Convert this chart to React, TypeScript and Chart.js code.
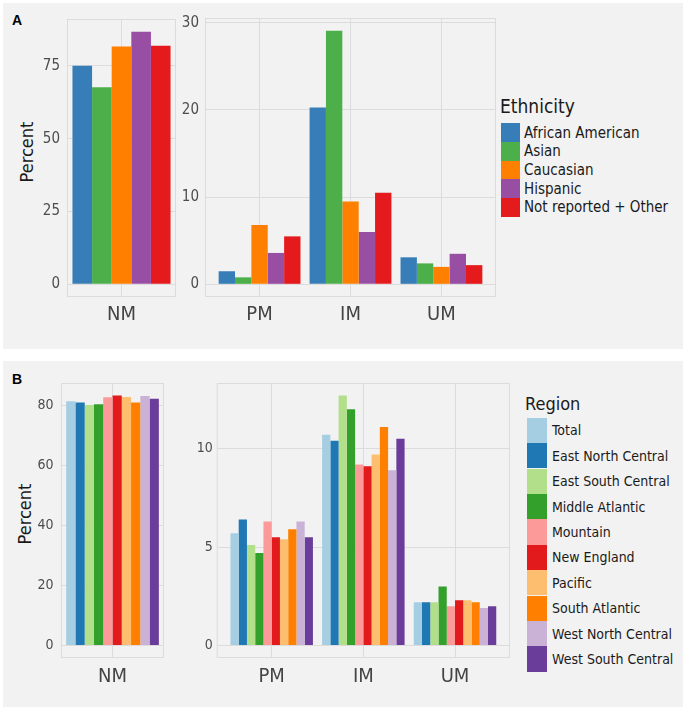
import { useEffect, useRef } from "react";
import Chart from "chart.js/auto";

const ethnicities = ["African American", "Asian", "Caucasian", "Hispanic", "Not reported + Other"];
const ethnicityColors = ["#377eb8", "#4daf4a", "#ff7f00", "#984ea3", "#e41a1c"];
const ethnicityNM = [75.0, 67.6, 81.6, 86.7, 81.9];
const ethnicityPM = [1.5, 0.8, 6.8, 3.6, 5.5];
const ethnicityIM = [20.3, 29.1, 9.5, 6.0, 10.5];
const ethnicityUM = [3.1, 2.4, 2.0, 3.5, 2.2];

const regions = [
  "Total",
  "East North Central",
  "East South Central",
  "Middle Atlantic",
  "Mountain",
  "New England",
  "Pacific",
  "South Atlantic",
  "West North Central",
  "West South Central",
];
const regionColors = [
  "#a6cee3", "#1f78b4", "#b2df8a", "#33a02c", "#fb9a99",
  "#e31a1c", "#fdbf6f", "#ff7f00", "#cab2d6", "#6a3d9a",
];
const regionNM = [81.3, 80.9, 80.0, 80.3, 82.6, 83.2, 82.7, 80.9, 83.0, 82.1];
const regionPM = [5.7, 6.4, 5.1, 4.7, 6.3, 5.5, 5.4, 5.9, 6.3, 5.5];
const regionIM = [10.7, 10.4, 12.7, 12.0, 9.2, 9.1, 9.7, 11.1, 8.9, 10.5];
const regionUM = [2.2, 2.2, 2.2, 3.0, 2.0, 2.3, 2.3, 2.2, 1.9, 2.0];

const nmCategories = ["NM"];
const otherCategories = ["PM", "IM", "UM"];
const ethnicityNMTicks = [0, 25, 50, 75];
const ethnicityOtherTicks = [0, 10, 20, 30];
const regionNMTicks = [0, 20, 40, 60, 80];
const regionOtherTicks = [0, 5, 10];

const FONT = "'DejaVu Sans Condensed', 'Liberation Sans Narrow', 'DejaVu Sans', sans-serif";
const GRID = "#dcdcdc";
const PANEL = "#f2f2f2";

// ggplot-style panel border round the plot area
const framePlugin = {
  id: "frame",
  beforeDatasetsDraw(chart: Chart) {
    const { ctx, chartArea: a } = chart;
    ctx.save();
    ctx.strokeStyle = GRID;
    ctx.lineWidth = 1;
    ctx.strokeRect(a.left + 0.5, a.top + 0.5, a.width - 1, a.height - 1);
    ctx.restore();
  },
};

interface BarChartProps {
  categories: string[];
  values: number[][];
  series: string[];
  colors: string[];
  ticks: number[];
  left: number;
  top: number;
  width: number;
  height: number;
  axisWidth: number;
  axisHeight: number;
  padTop: number;
  padRight: number;
  tickSize: number;
  tickPad: number;
  labelPad: number;
}

const BarChart = (p: BarChartProps) => {
  const chartRef = useRef<HTMLCanvasElement>(null);

  useEffect(() => {
    if (!chartRef.current) return;
    const all = p.values.flat();
    const maxV = Math.max(...all);
    const n = p.categories.length;
    const xMin = n === 1 ? 0.5 : 0.4;
    const xMax = n === 1 ? 1.5 : n + 0.6;

    const chart = new Chart(chartRef.current, {
      type: "bar",
      data: {
        datasets: p.series.map((name, s) => ({
          label: name,
          data: p.categories.map((_, ci) => ({ x: ci + 1, y: p.values[ci][s] })),
          backgroundColor: p.colors[s],
          borderWidth: 0,
          categoryPercentage: 0.9,
          barPercentage: 1,
        })),
      },
      options: {
        animation: false,
        responsive: false,
        layout: { padding: { top: p.padTop, right: p.padRight, left: 0, bottom: 0 } },
        plugins: { legend: { display: false }, tooltip: { enabled: false } },
        scales: {
          x: {
            type: "linear",
            offset: false,
            min: xMin,
            max: xMax,
            grid: { color: GRID, offset: false, drawTicks: false },
            border: { display: false },
            afterBuildTicks: (s: any) => {
              s.ticks = p.categories.map((_, i) => ({ value: i + 1 }));
            },
            afterFit: (s: any) => {
              s.height = p.axisHeight;
            },
            ticks: {
              callback: (v: any) => p.categories[Number(v) - 1],
              font: { family: FONT, size: 20 },
              color: "#444444",
              padding: p.labelPad,
              maxRotation: 0,
              autoSkip: false,
            },
          },
          y: {
            type: "linear",
            min: -0.05 * maxV,
            max: 1.05 * maxV,
            grid: { color: GRID, drawTicks: false },
            border: { display: false },
            afterBuildTicks: (s: any) => {
              s.ticks = p.ticks.map((v) => ({ value: v }));
            },
            afterFit: (s: any) => {
              s.width = p.axisWidth;
            },
            ticks: {
              font: { family: FONT, size: p.tickSize },
              color: "#4d4d4d",
              padding: p.tickPad,
            },
          },
        },
      },
      plugins: [framePlugin],
    });

    return () => {
      chart.destroy();
    };
  }, []);

  return (
    <canvas
      ref={chartRef}
      width={p.width}
      height={p.height}
      style={{ position: "absolute", left: p.left, top: p.top, width: p.width, height: p.height }}
    />
  );
};

interface LegendProps {
  title: string;
  items: string[];
  colors: string[];
  left: number;
  titleTop: number;
  titleSize: number;
  boxLeft: number;
  boxTop: number;
  boxW: number;
  boxH: number;
  textLeft: number;
  textSize: number;
}

const Legend = (p: LegendProps) => (
  <>
    <div
      style={{
        position: "absolute",
        left: p.left,
        top: p.titleTop,
        fontFamily: FONT,
        fontSize: p.titleSize,
        lineHeight: 1,
        color: "#1a1a1a",
        whiteSpace: "nowrap",
      }}
    >
      {p.title}
    </div>
    {p.items.map((item, i) => (
      <div
        key={item}
        style={{
          position: "absolute",
          left: p.boxLeft,
          top: p.boxTop + i * p.boxH,
          height: p.boxH,
          display: "flex",
          alignItems: "center",
          whiteSpace: "nowrap",
        }}
      >
        <div style={{ width: p.boxW, height: p.boxH, background: p.colors[i] }} />
        <div
          style={{
            marginLeft: p.textLeft - p.boxLeft - p.boxW,
            fontFamily: FONT,
            fontSize: p.textSize,
            color: "#1a1a1a",
          }}
        >
          {item}
        </div>
      </div>
    ))}
  </>
);

const tag = (text: string, top: number) => (
  <div
    style={{
      position: "absolute",
      left: 12,
      top,
      fontFamily: "'Liberation Sans', Arial, sans-serif",
      fontWeight: "bold",
      fontSize: 14,
      lineHeight: 1,
      color: "#000",
    }}
  >
    {text}
  </div>
);

// rotated axis title, centred on (cx, cy)
const yTitle = (text: string, cx: number, cy: number) => (
  <div
    style={{
      position: "absolute",
      left: cx - 50,
      top: cy - 12,
      width: 100,
      height: 24,
      lineHeight: "24px",
      textAlign: "center",
      transform: "rotate(-90deg)",
      fontFamily: FONT,
      fontSize: 18,
      color: "#1a1a1a",
    }}
  >
    {text}
  </div>
);

export default function App() {
  return (
    <div style={{ position: "absolute", left: 0, top: 0, width: 686, height: 710, background: "#fff" }}>
      <div style={{ position: "absolute", left: 3, top: 3, width: 680, height: 346, background: PANEL }} />
      <div style={{ position: "absolute", left: 3, top: 361, width: 680, height: 346, background: PANEL }} />
      {tag("A", 13)}
      {tag("B", 372)}
      {yTitle("Percent", 27, 152)}
      {yTitle("Percent", 25, 514)}

      <BarChart
        categories={nmCategories}
        values={[ethnicityNM]}
        series={ethnicities}
        colors={ethnicityColors}
        ticks={ethnicityNMTicks}
        left={3}
        top={3}
        width={180}
        height={337}
        axisWidth={64}
        axisHeight={43}
        padTop={15}
        padRight={7}
        tickSize={15}
        tickPad={7}
        labelPad={6}
      />
      <BarChart
        categories={otherCategories}
        values={[ethnicityPM, ethnicityIM, ethnicityUM]}
        series={ethnicities}
        colors={ethnicityColors}
        ticks={ethnicityOtherTicks}
        left={170}
        top={3}
        width={330}
        height={337}
        axisWidth={35}
        axisHeight={43}
        padTop={15}
        padRight={4}
        tickSize={15}
        tickPad={6}
        labelPad={6}
      />
      <Legend
        title="Ethnicity"
        items={ethnicities}
        colors={ethnicityColors}
        left={500}
        titleTop={96.5}
        titleSize={19}
        boxLeft={501}
        boxTop={123.3}
        boxW={18.5}
        boxH={18.7}
        textLeft={524}
        textSize={15}
      />

      <BarChart
        categories={nmCategories}
        values={[regionNM]}
        series={regions}
        colors={regionColors}
        ticks={regionNMTicks}
        left={3}
        top={361}
        width={167}
        height={339}
        axisWidth={58}
        axisHeight={42}
        padTop={22}
        padRight={6}
        tickSize={14}
        tickPad={7.5}
        labelPad={7}
      />
      <BarChart
        categories={otherCategories}
        values={[regionPM, regionIM, regionUM]}
        series={regions}
        colors={regionColors}
        ticks={regionOtherTicks}
        left={175}
        top={361}
        width={340}
        height={339}
        axisWidth={41.7}
        axisHeight={42}
        padTop={22}
        padRight={5}
        tickSize={14}
        tickPad={4}
        labelPad={7}
      />
      <Legend
        title="Region"
        items={regions}
        colors={regionColors}
        left={525}
        titleTop={394.8}
        titleSize={18}
        boxLeft={527}
        boxTop={417.7}
        boxW={20}
        boxH={25.4}
        textLeft={552}
        textSize={14}
      />
    </div>
  );
}
